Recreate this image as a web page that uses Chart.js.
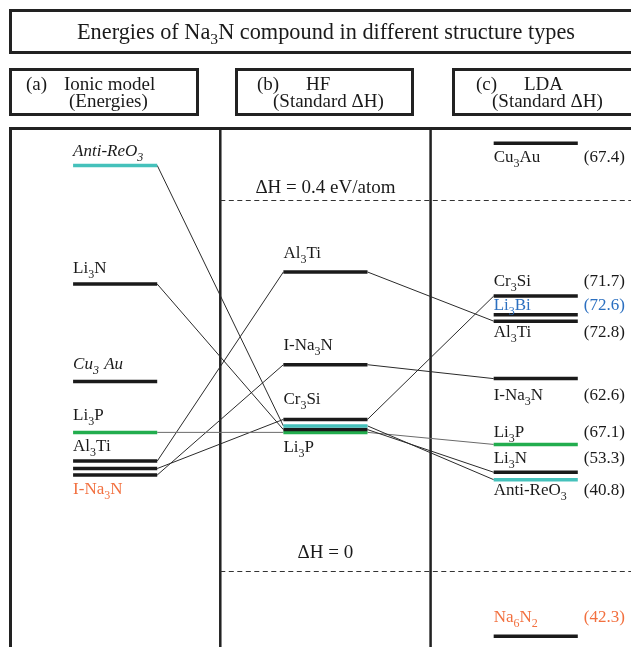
<!DOCTYPE html>
<html>
<head>
<meta charset="utf-8">
<script src="https://cdn.jsdelivr.net/npm/chart.js@4/dist/chart.umd.min.js"></script>
<style>
  html, body { margin: 0; padding: 0; background: #fff; }
  body { width: 631px; height: 647px; position: relative; overflow: hidden;
         font-family: "Liberation Serif", "DejaVu Serif", serif; color: #1a1a1a; }
  .box { position: absolute; box-sizing: border-box; border: 3px solid #222; }
  .t { position: absolute; white-space: nowrap; line-height: 1; font-size: 19px; }
  .t sub { font-size: 0.7em; vertical-align: -0.32em; line-height: 0; }
  canvas { position: absolute; left: 0; top: 0; }
</style>
</head>
<body>
<canvas id="c" width="631" height="647"></canvas>

<div class="box" style="left:9px;top:9px;width:660px;height:45px"></div>
<div class="t" style="left:77px;top:20.6px;font-size:22.3px">Energies of Na<sub>3</sub>N compound in different structure types</div>

<div class="box" style="left:9px;top:68px;width:190px;height:48px"></div>
<div class="t" style="left:26px;top:73.6px">(a)</div>
<div class="t" style="left:64px;top:73.6px">Ionic model</div>
<div class="t" style="left:69px;top:91px">(Energies)</div>

<div class="box" style="left:235px;top:68px;width:179px;height:48px"></div>
<div class="t" style="left:257px;top:73.6px">(b)</div>
<div class="t" style="left:306px;top:73.6px">HF</div>
<div class="t" style="left:273px;top:91px">(Standard ΔH)</div>

<div class="box" style="left:452px;top:68px;width:220px;height:48px"></div>
<div class="t" style="left:476px;top:73.6px">(c)</div>
<div class="t" style="left:524px;top:73.6px">LDA</div>
<div class="t" style="left:492px;top:91px">(Standard ΔH)</div>

<script>
// (a) Ionic model: relative energies of each structure type
const ionicNames  = ['Anti-ReO3', 'Li3N', 'Cu3Au', 'Li3P', 'Al3Ti', 'Cr3Si', 'I-Na3N'];
const ionicLabels = ['Anti-ReO3', 'Li3N', 'Cu3 Au', 'Li3P', 'Al3Ti', '', 'I-Na3N'];
const ionicLevels = [0.437, 0.309, 0.204, 0.149, 0.118, 0.110, 0.103];

// (b) Hartree-Fock standard enthalpies (eV/atom)
const hfNames  = ['Al3Ti', 'I-Na3N', 'Cr3Si', 'Anti-ReO3', 'Li3N', 'Li3P'];
const hfLabels = ['Al3Ti', 'I-Na3N', 'Cr3Si', '', '', 'Li3P'];
const hfLevels = [0.322, 0.222, 0.163, 0.156, 0.152, 0.149];

// (c) LDA standard enthalpies (eV/atom) with the bracketed figures printed beside them
const ldaNames  = ['Cu3Au', 'Cr3Si', 'Li3Bi', 'Al3Ti', 'I-Na3N', 'Li3P', 'Li3N', 'Anti-ReO3', 'Na6N2'];
const ldaLabels = ['Cu3Au', 'Cr3Si', 'Li3Bi', 'Al3Ti', 'I-Na3N', 'Li3P', 'Li3N', 'Anti-ReO3', 'Na6N2'];
const ldaLevels = [0.461, 0.296, 0.276, 0.269, 0.207, 0.136, 0.106, 0.098, -0.071];
const ldaNotes  = ['(67.4)', '(71.7)', '(72.6)', '(72.8)', '(62.6)', '(67.1)', '(53.3)', '(40.8)', '(42.3)'];

// reference enthalpy lines
const refLevels = [0.4, 0];
const refLabels = ['ΔH = 0.4 eV/atom', 'ΔH = 0'];

// ---- styling / layout ----
const FONT = '"Liberation Serif", "DejaVu Serif", serif';
const INK = '#1a1a1a';
const CYAN = '#45c1bb', GREEN = '#22ad4e', ORANGE = '#f2703f', BLUE = '#2b6fc0';
const levelColor = { 'Anti-ReO3': CYAN, 'Li3P': GREEN };
const BAR_START = 0.3, BAR_END = 0.7;

// label baseline offsets from each bar (px, negative = above)
const ionicLabelDy = [-9, -11, -12, -12, -10, 0, 19];
const hfLabelDy    = [-14, -15, -15, 0, 0, 20];
const ldaLabelDy   = [19, -10, -5, 16, 21, -7, -9, 15, -14];
const refLabelDy   = [-6.5, -12.5];

const columns = [
  { names: ionicNames, labels: ionicLabels, levels: ionicLevels, dy: ionicLabelDy,
    italic: ['Anti-ReO3', 'Cu3Au'], textColor: { 'I-Na3N': ORANGE } },
  { names: hfNames, labels: hfLabels, levels: hfLevels, dy: hfLabelDy,
    italic: [], textColor: {} },
  { names: ldaNames, labels: ldaLabels, levels: ldaLevels, dy: ldaLabelDy,
    italic: [], textColor: { 'Li3Bi': BLUE, 'Na6N2': ORANGE }, notes: ldaNotes }
];

const datasets = [];
// connectors between matching structures in neighbouring columns
for (let c = 0; c < columns.length - 1; c++) {
  const a = columns[c], b = columns[c + 1];
  a.names.forEach((n, i) => {
    const j = b.names.indexOf(n);
    if (j < 0) return;
    datasets.push({
      data: [{ x: c + BAR_END, y: a.levels[i] }, { x: c + 1 + BAR_START, y: b.levels[j] }],
      borderColor: n === 'Li3P' ? '#6a6a6a' : '#2a2a2a',
      borderWidth: 1, pointRadius: 0, order: 2
    });
  });
}
// energy levels
columns.forEach((col, c) => {
  col.names.forEach((n, i) => {
    datasets.push({
      data: [{ x: c + BAR_START, y: col.levels[i] }, { x: c + BAR_END, y: col.levels[i] }],
      borderColor: levelColor[n] || INK,
      borderWidth: 3.5, borderCapStyle: 'butt', pointRadius: 0, order: 1
    });
  });
});

// text with every digit set as a subscript
function richSegments(str) {
  return str.split(/(\d)/).filter(s => s.length).map(s => ({ text: s, sub: /^\d$/.test(s) }));
}
function drawRich(ctx, str, x, y, size, italic, color) {
  const style = italic ? 'italic ' : '';
  ctx.fillStyle = color;
  ctx.textBaseline = 'alphabetic';
  ctx.textAlign = 'left';
  let cx = x;
  for (const seg of richSegments(str)) {
    const fs = seg.sub ? Math.round(size * 0.7) : size;
    ctx.font = style + fs + 'px ' + FONT;
    ctx.fillText(seg.text, cx, seg.sub ? y + 5 : y);
    cx += ctx.measureText(seg.text).width + (seg.sub && italic ? 1 : 0);
  }
}

const framePlugin = {
  id: 'frame',
  beforeDatasetsDraw(chart) {
    const { ctx, chartArea, scales: { x, y } } = chart;
    ctx.save();
    ctx.strokeStyle = '#222';
    // outer frame: top and left edges
    ctx.lineWidth = 3;
    ctx.beginPath();
    ctx.moveTo(9, chartArea.top + 1.5); ctx.lineTo(chartArea.right, chartArea.top + 1.5);
    ctx.moveTo(10.5, chartArea.top); ctx.lineTo(10.5, chartArea.bottom);
    ctx.stroke();
    // column separators
    ctx.lineWidth = 2.5;
    ctx.beginPath();
    [1, 2].forEach(v => {
      const px = x.getPixelForValue(v);
      ctx.moveTo(px, chartArea.top); ctx.lineTo(px, chartArea.bottom);
    });
    ctx.stroke();
    // dashed reference lines across (b) and (c)
    ctx.lineWidth = 1;
    ctx.strokeStyle = '#333';
    ctx.setLineDash([5, 3.5]);
    refLevels.forEach(v => {
      const py = Math.round(y.getPixelForValue(v)) + 0.5;
      ctx.beginPath();
      ctx.moveTo(x.getPixelForValue(1), py); ctx.lineTo(chartArea.right, py);
      ctx.stroke();
    });
    ctx.setLineDash([]);
    // reference labels
    ctx.fillStyle = INK;
    ctx.font = '19px ' + FONT;
    ctx.textAlign = 'center';
    ctx.textBaseline = 'alphabetic';
    refLevels.forEach((v, i) => {
      ctx.fillText(refLabels[i], x.getPixelForValue(1.5), y.getPixelForValue(v) + refLabelDy[i]);
    });
    ctx.restore();
  },
  afterDatasetsDraw(chart) {
    const { ctx, scales: { x, y } } = chart;
    ctx.save();
    columns.forEach((col, c) => {
      const left = x.getPixelForValue(c + BAR_START);
      col.names.forEach((n, i) => {
        const yy = y.getPixelForValue(col.levels[i]) + col.dy[i];
        const color = col.textColor[n] || INK;
        if (col.labels[i]) drawRich(ctx, col.labels[i], left, yy, 17, col.italic.includes(n), color);
        if (col.notes) {
          ctx.fillStyle = color;
          ctx.font = '17px ' + FONT;
          ctx.textAlign = 'right';
          ctx.fillText(col.notes[i], x.getPixelForValue(c + BAR_END) + 47, yy);
        }
      });
    });
    ctx.restore();
  }
};

new Chart(document.getElementById('c'), {
  type: 'line',
  data: { datasets },
  options: {
    responsive: false,
    devicePixelRatio: 1,
    animation: false,
    events: [],
    layout: { padding: { left: 10, top: 127, right: 0, bottom: 0 } },
    plugins: { legend: { display: false }, tooltip: { enabled: false } },
    scales: {
      x: { type: 'linear', min: 0, max: 2.953, display: false },
      y: { type: 'linear', min: -0.0825, max: 0.4784, display: false }
    }
  },
  plugins: [framePlugin]
});
</script>
</body>
</html>
